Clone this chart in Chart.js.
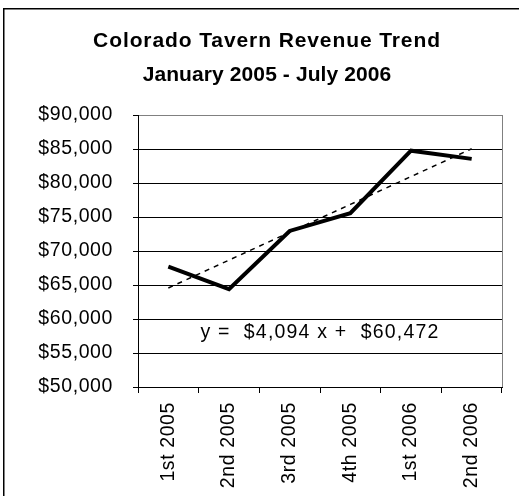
<!DOCTYPE html>
<html>
<head>
<meta charset="utf-8">
<script src="https://cdn.jsdelivr.net/npm/chart.js@4/dist/chart.umd.min.js"></script>
<style>
  html, body { margin: 0; padding: 0; background: #fff; }
  #revenueChart { display: block; }
</style>
</head>
<body>
<canvas id="revenueChart" width="519" height="496"></canvas>
<script>
// Quarterly revenue, Jan 2005 - Jul 2006
const quarters = ['1st 2005', '2nd 2005', '3rd 2005', '4th 2005', '1st 2006', '2nd 2006'];
const revenue = [67700, 64400, 72950, 75550, 84750, 83550];

// Linear trend as printed on the chart: y = slope * x + intercept (x = 1..6)
const trendSlope = 4094;
const trendIntercept = 60472;

const titleLines = ['Colorado Tavern Revenue Trend', 'January 2005 - July 2006'];
const yMin = 50000;
const yMax = 90000;
const yStep = 5000;

const FONT = '"Liberation Sans", Arial, sans-serif';

const money = v => '$' + Math.round(v).toLocaleString('en-US');

const trendValues = quarters.map((q, i) => trendIntercept + trendSlope * (i + 1));
const equationText = 'y =  ' + money(trendSlope) + ' x +  ' + money(trendIntercept);

// slightly wider text tracking, set before measuring and before drawing
const tracking = {
  id: 'tracking',
  beforeLayout(chart) { chart.ctx.letterSpacing = '0.6px'; },
  beforeDraw(chart) { chart.ctx.letterSpacing = '0.6px'; }
};

// title, outer frame, plot frame and trend equation
const decorations = {
  id: 'decorations',
  beforeDatasetsDraw(chart) {
    const ctx = chart.ctx;
    const a = chart.chartArea;
    ctx.save();
    ctx.strokeStyle = '#808080';
    ctx.lineWidth = 1;
    ctx.beginPath();
    ctx.moveTo(Math.round(a.right) + 0.5, a.top);
    ctx.lineTo(Math.round(a.right) + 0.5, a.bottom);
    ctx.stroke();
    ctx.restore();
  },
  afterDraw(chart) {
    const ctx = chart.ctx;
    ctx.save();
    // chart frame
    ctx.strokeStyle = '#000';
    ctx.lineWidth = 1.5;
    ctx.strokeRect(3.75, 8.75, 540, 520);

    // title
    ctx.fillStyle = '#000';
    ctx.textAlign = 'center';
    ctx.textBaseline = 'alphabetic';
    ctx.font = 'bold 21px ' + FONT;
    ctx.letterSpacing = '0.9px';
    ctx.fillText(titleLines[0], 267, 47);
    ctx.letterSpacing = '0.1px';
    ctx.fillText(titleLines[1], 267, 81);

    // trend equation
    ctx.letterSpacing = '1.2px';
    ctx.font = '19.5px ' + FONT;
    ctx.fillText(equationText, 320, 338);
    ctx.restore();
  }
};

const ctx = document.getElementById('revenueChart').getContext('2d');

const revenueChart = new Chart(ctx, {
  type: 'line',
  data: {
    labels: quarters,
    datasets: [{
      label: 'Revenue',
      data: revenue,
      borderColor: '#000',
      borderWidth: 4,
      pointRadius: 0,
      tension: 0,
      fill: false
    }, {
      label: 'Trend',
      data: trendValues,
      borderColor: '#000',
      borderWidth: 1.5,
      borderDash: [5, 5],
      pointRadius: 0,
      tension: 0,
      fill: false
    }]
  },
  options: {
    responsive: false,
    animation: false,
    devicePixelRatio: 1,
    layout: {
      padding: { top: 115, right: 17, bottom: 0, left: 0 }
    },
    plugins: {
      legend: { display: false },
      title: { display: false },
      tooltip: { enabled: false }
    },
    scales: {
      x: {
        offset: true,
        grid: {
          offset: true,
          drawOnChartArea: false,
          drawTicks: true,
          tickLength: 6,
          color: '#000'
        },
        border: { color: '#000', width: 1 },
        ticks: {
          autoSkip: false,
          maxRotation: 90,
          minRotation: 90,
          padding: 9,
          color: '#000',
          font: { family: FONT, size: 19.5 }
        },
        afterFit(scale) { scale.height = 109; }
      },
      y: {
        min: yMin,
        max: yMax,
        grid: {
          color: c => (c.tick && c.tick.value === yMax ? '#808080' : '#000'),
          tickColor: '#000',
          tickLength: 5,
          lineWidth: 1
        },
        border: { color: '#000', width: 1 },
        ticks: {
          stepSize: yStep,
          padding: 20,
          color: '#000',
          font: { family: FONT, size: 19.5 },
          callback: value => money(value)
        },
        afterFit(scale) { scale.width = 138; }
      }
    }
  },
  plugins: [tracking, decorations]
});
</script>
</body>
</html>
